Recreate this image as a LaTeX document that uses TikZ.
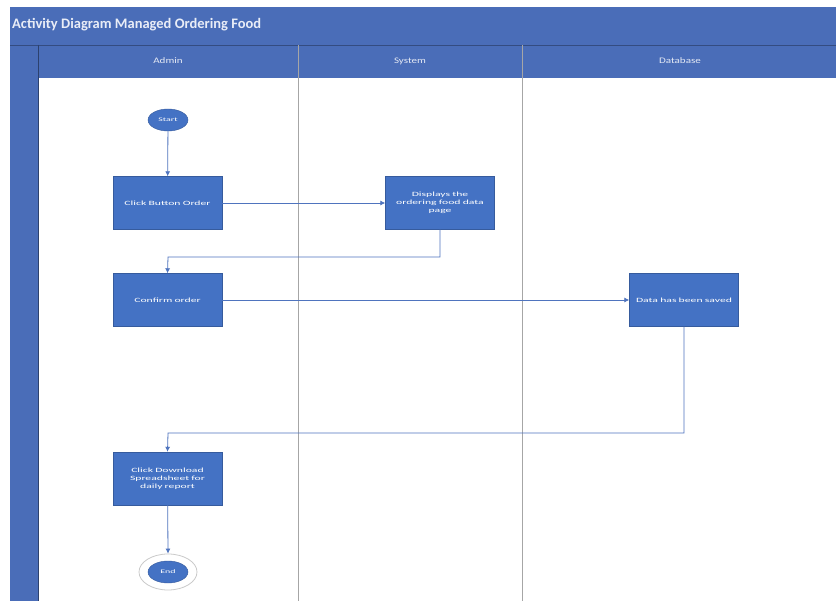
\documentclass[tikz,border=0pt]{standalone}
\usepackage{fontspec}
\setmainfont{Carlito}
\newfontfamily\widefont[FakeStretch=1.8]{Carlito}
\newfontfamily\headfont[FakeStretch=1.3]{Carlito}
\usetikzlibrary{arrows.meta,shapes.geometric}
\definecolor{office}{HTML}{4472C4}
\definecolor{hdr}{HTML}{4A6DB8}
\definecolor{wire}{HTML}{4F74BE}
\definecolor{lane}{HTML}{A6A6A6}
\tikzset{
  act/.style={draw=office!80!black,fill=office,minimum width=109pt,minimum height=53pt,
    text width=105pt,align=center,text=white,inner sep=1pt,
    font=\widefont\fontsize{6.5}{8}\selectfont},
  term/.style={ellipse,draw=office!80!black,fill=office,minimum width=40pt,minimum height=22pt,
    inner sep=0pt,text=white,font=\widefont\fontsize{5.5}{6}\selectfont},
  flow/.style={draw=wire,line width=0.8pt,-{Latex[length=5pt,width=5pt]}},
  lanehead/.style={text=white!85!hdr,font=\headfont\fontsize{8.5}{10}\selectfont}
}
\begin{document}
\begin{tikzpicture}[x=1pt,y=-1pt]
\useasboundingbox (0,0) rectangle (836,601);
% pool frame
\fill[hdr] (10,7) rectangle (836,78);
\fill[hdr] (10,45) rectangle (38,601);
\fill[white] (38,78) rectangle (836,601);
\draw[hdr!70!black,line width=0.6pt] (10,45) -- (836,45);
\node[anchor=west,inner sep=0pt,text=white!88!hdr,font=\bfseries\fontsize{14.5}{16}\selectfont] (title) at (12,25) {Activity Diagram Managed Ordering Food};
% lane separators
\draw[lane,line width=0.8pt] (298,45) -- (298,601);
\draw[lane,line width=0.8pt] (522,45) -- (522,601);
\draw[hdr!60!black,line width=0.5pt] (38,45) -- (38,601);
\node[lanehead] (ladmin) at (168,61) {Admin};
\node[lanehead] (lsystem) at (410,61) {System};
\node[lanehead] (ldb) at (680,61) {Database};
% activity nodes
\node[term] (start) at (168,120) {Start};
\node[act] (click) at (167.5,203) {Click Button Order};
\node[act] (disp) at (440,203) {Displays the\\ ordering food data\\ page};
\node[act] (confirm) at (167.5,300) {Confirm order};
\node[act] (saved) at (684,300) {Data has been saved};
\node[act] (dl) at (167.5,478.5) {Click Download\\ Spreadsheet for\\ daily report};
\node[term] (end) at (168,572) {End};
\node[ellipse,draw=lane!60,line width=0.8pt,minimum width=58pt,minimum height=36pt] (endring) at (168,572) {};
% control flow
\draw[flow] (start) -- (click);
\draw[flow] (click) -- (disp);
\draw[flow] (disp.south) |- (168,257) -- (confirm.north);
\draw[flow] (confirm) -- (saved);
\draw[flow] (saved.south) |- (168,433) -- (dl.north);
\draw[flow] (dl) -- (endring.north);
\end{tikzpicture}
\end{document}
